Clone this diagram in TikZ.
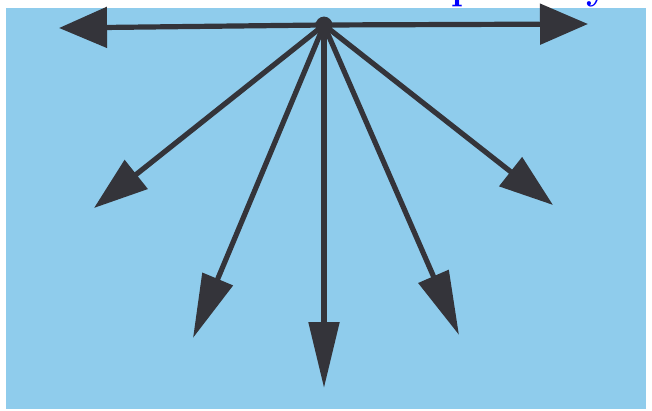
\documentclass[tikz,border=0pt]{standalone}
\usepackage{tikz}
\usetikzlibrary{arrows.meta}
\definecolor{skyblue}{RGB}{143,204,236}
\definecolor{arrowgray}{RGB}{52,52,58}
\definecolor{titleblue}{RGB}{0,0,255}

\begin{document}
\begin{tikzpicture}[x=0.5pt,y=-0.5pt,
  vec/.style={draw=arrowgray, line width=2.6pt},
  cut/.style={anchor=base, inner sep=0pt, text=titleblue, font=\fontsize{19}{19}\selectfont\bfseries}]
  %% 1. Background and cut-off title letters
  \useasboundingbox (0,0) rectangle (652,411);
  \fill[white] (0,0) rectangle (652,411);
  \begin{scope}
    \clip (0,0) rectangle (652,8);
    \node[cut] (ttlP) at (463,0) {p};
    \node[cut] (ttlY) at (598,0) {y};
  \end{scope}
  \fill[skyblue] (6,8) rectangle (646,409);
  %% 2. Hub and tips
  \coordinate (hub) at (324,25);
  \coordinate (tipW) at (59,28);
  \coordinate (tipE) at (588,24);
  \coordinate (tipSW) at (94,208);
  \coordinate (tipSSW) at (193,338);
  \coordinate (tipS) at (324,388);
  \coordinate (tipSSE) at (459,335);
  \coordinate (tipSE) at (553,205);
  %% 3. Arrows
  \draw[vec, -{Triangle[length=24pt,width=20pt]}] (hub) -- (tipW);
  \draw[vec, -{Triangle[length=24pt,width=20pt]}] (hub) -- (tipE);
  \draw[vec, -{Triangle[length=27pt,width=18pt]}] (hub) -- (tipSW);
  \draw[vec, -{Triangle[length=27pt,width=18pt]}] (hub) -- (tipSE);
  \draw[vec, -{Triangle[length=32pt,width=16pt]}] (hub) -- (tipSSW);
  \draw[vec, -{Triangle[length=32pt,width=16pt]}] (hub) -- (tipSSE);
  \draw[vec, -{Triangle[length=33pt,width=15pt]}] (hub) -- (tipS);
  \fill[arrowgray] (hub) circle (4.2pt);
\end{tikzpicture}
\end{document}
